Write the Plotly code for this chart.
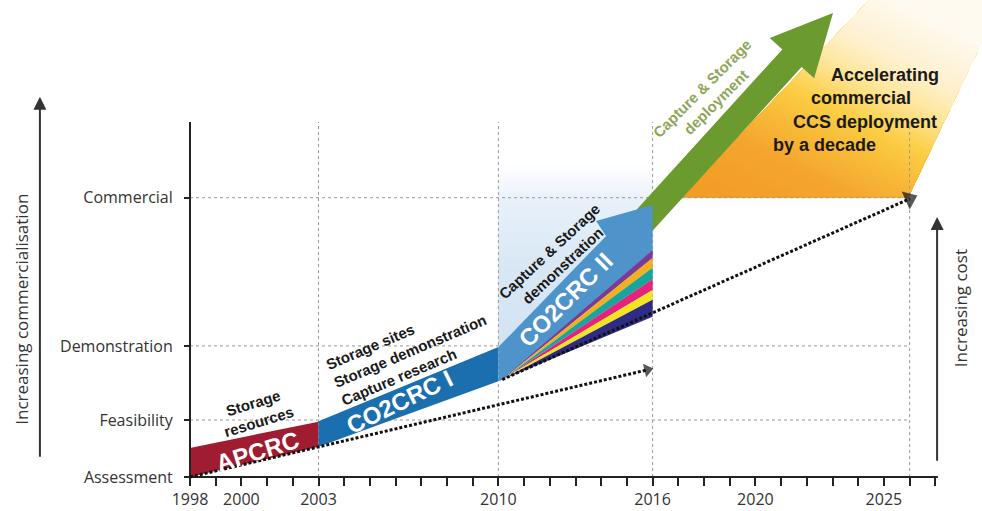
import numpy as np
import plotly.graph_objects as go

W, H = 982, 511

# ---------------- data ----------------
tick_years = [1998, 2000, 2003, 2010, 2016, 2020, 2025]
minor_years = list(range(1998, 2028))
stage_labels = ["Assessment", "Feasibility", "Demonstration", "Commercial"]
stage_levels = [0.0, 1.0, 2.3, 4.9]
grid_years = [2003, 2010, 2016, 2026]
grid_levels = [1.0, 2.3, 4.9]
axis_top_level = 6.23
axis_end_year = 2027.1

# programme bands (start/end year, lower edge levels, upper edge levels)
band_names = ["APCRC", "CO2CRC I"]
band_years = [(1998, 2003), (2003, 2010)]
band_bottom = [(0.0, 0.53), (0.53, 1.68)]
band_top = [(0.51, 0.97), (0.98, 2.28)]
band_colors = ["#a01c30", "#1b6fae"]

# CO2CRC II arrow outline (years, levels)
co2crc2_years = [2010.0, 2014.19, 2013.80, 2016.0, 2016.0, 2010.14, 2010.0]
co2crc2_levels = [2.28, 4.23, 4.49, 4.77, 3.95, 1.70, 1.68]

# projects fanning out of CO2CRC II (level boundaries at 2016)
fan_apex = (2010.15, 1.71)
fan_levels_2016 = [3.98, 3.84, 3.67, 3.47, 3.28, 3.11, 2.81]
fan_colors = ["#7b3a96", "#f2b01e", "#16a69b", "#e4237e", "#f2e41f", "#2e2c84"]

# deployment arrow (start, tip)
deploy_start = (2014.89, 4.11)
deploy_tip = (2023.02, 8.14)

# business-as-usual trajectories (dotted)
bau1_years, bau1_levels = [1998.0, 2015.8], [0.0, 1.88]
bau2_years, bau2_levels = [2010.15, 2026.0], [1.71, 4.88]

# accelerated region outline
accel_years = [2017.07, 2025.94, 2029.2, 2029.2, 2024.5]
accel_levels = [4.9, 4.9, 8.0, 8.4, 8.4]

# ---------------- scales ----------------
PXY = 25.7   # px per year
PXL = 57.0   # px per level
x0r = 1998 - 190 / PXY
x1r = x0r + W / PXY
y0r = -(H - 477) / PXL
y1r = y0r + H / PXL


def to_px(x, y):
    return np.array([(x - x0r) * PXY, H - (y - y0r) * PXL])


def to_data(p):
    return (x0r + p[0] / PXY, y0r + (H - p[1]) / PXL)


def clip_half(poly, a, b, c):
    """keep part of convex polygon (px) where a*x+b*y >= c"""
    out = []
    n = len(poly)
    for i in range(n):
        P, Q = poly[i], poly[(i + 1) % n]
        fp = a * P[0] + b * P[1] - c
        fq = a * Q[0] + b * Q[1] - c
        if fp >= 0:
            out.append(P)
        if (fp >= 0) != (fq >= 0):
            t = fp / (fp - fq)
            out.append(P + t * (Q - P))
    return out


def hex2rgb(h):
    h = h.lstrip('#')
    return np.array([int(h[i:i + 2], 16) for i in (0, 2, 4)], float)


def interp_color(stops, t):
    ts = [s[0] for s in stops]
    cs = [hex2rgb(s[1]) for s in stops]
    if t <= ts[0]:
        c = cs[0]
    elif t >= ts[-1]:
        c = cs[-1]
    else:
        for i in range(len(ts) - 1):
            if ts[i] <= t <= ts[i + 1]:
                f = (t - ts[i]) / (ts[i + 1] - ts[i])
                c = cs[i] * (1 - f) + cs[i + 1] * f
                break
    return "rgb(%d,%d,%d)" % tuple(np.round(c))


fig = go.Figure()


def poly_trace(xs, ys, color):
    fig.add_trace(go.Scatter(x=list(xs) + [xs[0]], y=list(ys) + [ys[0]], mode="lines",
                             fill="toself", fillcolor=color, line=dict(width=0),
                             hoverinfo="skip"))


def gradient_poly(xs, ys, a, b, stops, n=45):
    poly = [to_px(x, y) for x, y in zip(xs, ys)]
    tv = [a * p[0] + b * p[1] for p in poly]
    tmin, tmax = min(tv), max(tv)
    for k in range(n):
        c = tmin + (tmax - tmin) * k / n
        part = clip_half(poly, a, b, c)
        if len(part) < 3:
            continue
        d = [to_data(p) for p in part]
        poly_trace([q[0] for q in d], [q[1] for q in d],
                   interp_color(stops, c + (tmax - tmin) / (2 * n)))


# pale blue background behind CO2CRC II
gradient_poly([2010, 2016, 2016, 2010], [2.28, 2.85, 5.45, 5.45], 0, -1,
              [(-347, "#d2e3f3"), (-260, "#dae8f5"), (-200, "#e8f1fa"), (-165, "#ffffff")])

# accelerated commercial deployment region (diagonal gradient)
gradient_poly(accel_years, accel_levels, 1, -2,
              [(284, "#f29a24"), (460, "#f4a52e"), (540, "#f8b936"), (620, "#fbcf46"),
               (700, "#fde598"), (780, "#fef1d0"), (900, "#fffaf0")], n=60)

# grid lines
for gy in grid_years:
    fig.add_trace(go.Scatter(x=[gy, gy], y=[0, axis_top_level], mode="lines",
                             line=dict(color="#9a9a9a", width=1, dash="dot"), hoverinfo="skip"))
for gl in grid_levels:
    fig.add_trace(go.Scatter(x=[1998, grid_years[-1]], y=[gl, gl], mode="lines",
                             line=dict(color="#9a9a9a", width=1, dash="dot"), hoverinfo="skip"))

# programme bands
for (ys_, ye_), (b0, b1), (t0, t1), col in zip(band_years, band_bottom, band_top, band_colors):
    poly_trace([ys_, ye_, ye_, ys_], [b0, b1, t1, t0], col)

# deployment arrow (green)
p0 = to_px(*deploy_start)
p1 = to_px(*deploy_tip)
u = (p1 - p0) / np.linalg.norm(p1 - p0)
nrm = np.array([-u[1], u[0]])
hw, hhw, hl = 13.0, 30.0, 61.0
base = p1 - u * hl
pts = [p0 + nrm * hw, base + nrm * hw, base + nrm * hhw, p1, base - nrm * hhw, base - nrm * hw, p0 - nrm * hw]
dd = [to_data(p) for p in pts]
poly_trace([q[0] for q in dd], [q[1] for q in dd], "#6b9a2e")

# CO2CRC II arrow
poly_trace(co2crc2_years, co2crc2_levels, "#4f93cb")

# fan of projects
for i, col in enumerate(fan_colors):
    poly_trace([fan_apex[0], 2016, 2016], [fan_apex[1], fan_levels_2016[i], fan_levels_2016[i + 1]], col)

# axes lines
fig.add_trace(go.Scatter(x=[1998, axis_end_year], y=[0, 0], mode="lines",
                         line=dict(color="#222", width=2), hoverinfo="skip"))
fig.add_trace(go.Scatter(x=[1998, 1998], y=[0, axis_top_level], mode="lines",
                         line=dict(color="#222", width=2), hoverinfo="skip"))

# dotted trajectories with arrow heads
for xs, ys, sz in [(bau1_years, bau1_levels, 12), (bau2_years, bau2_levels, 17)]:
    fig.add_trace(go.Scatter(x=xs, y=ys, mode="lines+markers",
                             line=dict(color="#111", width=3, dash="3px,2px"),
                             marker=dict(symbol="triangle-up", size=[0, sz], color="#111",
                                         angleref="previous", line=dict(width=0)),
                             hoverinfo="skip"))

BOLD = "Liberation Sans, Arial, sans-serif"
ann = []


def text(x, y, s, size, color, angle=0, align="center", family=BOLD):
    ann.append(dict(x=x, y=y, xref="x", yref="y", text=s, showarrow=False,
                    textangle=angle, align=align,
                    font=dict(family=family, size=size, color=color)))


text(2000.61, 0.44, "<b>APCRC</b>", 24, "white", -17)
text(2000.57, 1.14, "<b>Storage<br>resources</b>", 15, "#1a1a1a", -17)
text(2006.17, 1.33, "<b>CO2CRC I</b>", 24, "white", -26)
text(2006.56, 2.21, "<b>Storage sites<br>Storage demonstration<br>Capture research</b>", 15, "#1a1a1a", -23, "left")
text(2012.63, 3.11, "<b>CO2CRC II</b>", 24, "white", -45)
text(2012.24, 3.84, "<b>Capture &amp; Storage<br>demonstration</b>", 15, "#1a1a1a", -43)
text(2018.19, 6.70, "<b>Capture &amp; Storage<br>deployment</b>", 15, "#8fa65a", -45)
text(2025.04, 7.05, "<b>Accelerating</b>", 18, "#1a1a1a")
text(2024.10, 6.65, "<b>commercial</b>", 18, "#1a1a1a")
text(2024.26, 6.23, "<b>CCS deployment</b>", 18, "#1a1a1a")
text(2022.70, 5.82, "<b>by a decade</b>", 18, "#1a1a1a")
text(1991.46, 2.95, "Increasing commercialisation", 17, "#333", -90, family="Open Sans")
text(2027.96, 2.96, "Increasing cost", 17, "#333", -90, family="Open Sans")

for xa, ylo, yhi in [(1992.16, 0.33, 6.67), (2027.07, 0.26, 4.56)]:
    ann.append(dict(x=xa, y=yhi, ax=xa, ay=ylo, xref="x", yref="y", axref="x", ayref="y",
                    text="", showarrow=True, arrowhead=2, arrowsize=1.3, arrowwidth=2,
                    arrowcolor="#333", standoff=0, startstandoff=0))

fig.update_layout(
    width=W, height=H, margin=dict(l=0, r=0, t=0, b=0),
    paper_bgcolor="white", plot_bgcolor="white", showlegend=False,
    annotations=ann,
    xaxis=dict(range=[x0r, x1r], showgrid=False, zeroline=False, showline=False,
               tickmode="array", tickvals=minor_years,
               ticktext=[str(y) if y in tick_years else "" for y in minor_years],
               ticks="outside", ticklen=8, tickwidth=1.5, tickcolor="#222",
               anchor="free", position=(0 - y0r) / (y1r - y0r), automargin=False,
               tickfont=dict(family="Open Sans", size=16, color="#333"), fixedrange=True),
    yaxis=dict(range=[y0r, y1r], showgrid=False, zeroline=False, showline=False,
               tickmode="array", tickvals=stage_levels, ticktext=stage_labels,
               ticks="outside", ticklen=6, tickwidth=1.5, tickcolor="#222",
               anchor="free", position=(1998 - x0r) / (x1r - x0r), automargin=False,
               ticklabelstandoff=8,
               tickfont=dict(family="Open Sans", size=16, color="#333"), fixedrange=True),
)

fig.write_html("out.html")
